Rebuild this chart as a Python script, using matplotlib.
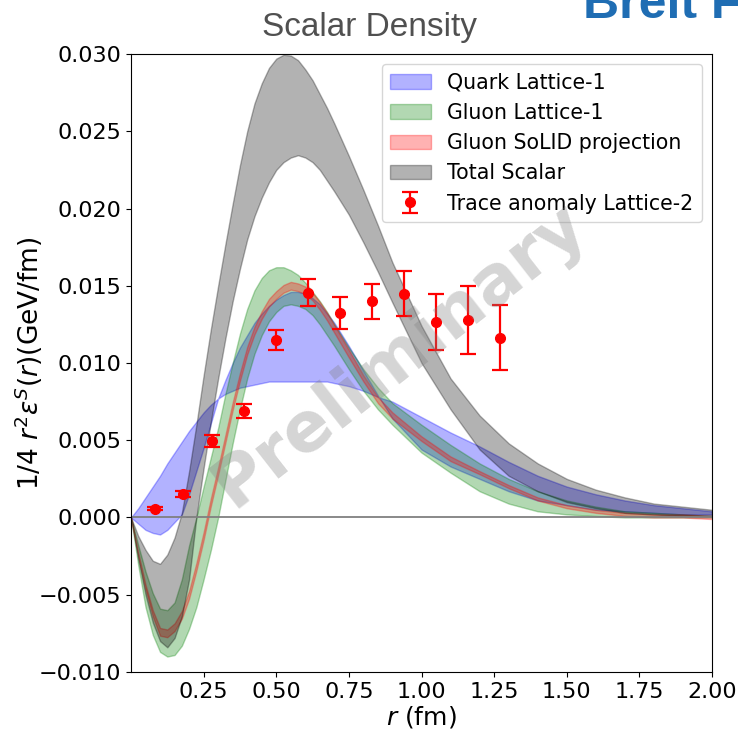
import matplotlib
matplotlib.use("Agg")
import matplotlib.pyplot as plt

# radial grid (fm) on which the bands were read
r = [0, 0.025, 0.05, 0.075, 0.1, 0.125, 0.15, 0.175, 0.2, 0.225, 0.25, 0.275,
     0.3, 0.325, 0.35, 0.375, 0.4, 0.425, 0.45, 0.475, 0.5, 0.525, 0.55, 0.575,
     0.6, 0.625, 0.65, 0.675, 0.7, 0.75, 0.8, 0.85, 0.9,
     1.0, 1.1, 1.2, 1.3, 1.4, 1.5, 1.6, 1.7, 1.8, 1.9, 2.0]

# quark lattice-1: the two edges of the band (they cross twice)
quark_a = [0, -0.0004, -0.0008, -0.0010, -0.0011, -0.0008, -0.0003, 0.0002, 0.0015, 0.0030, 0.0045, 0.0061,
           0.0077, 0.0089, 0.0100, 0.0110, 0.0118, 0.0126, 0.0132, 0.0137, 0.0141, 0.0144, 0.0146, 0.0146,
           0.0145, 0.0142, 0.0138, 0.0132, 0.0126, 0.0111, 0.0095, 0.0079, 0.0064,
           0.0044, 0.0033, 0.0025, 0.0017, 0.0011, 0.0008, 0.0005, 0.0004, 0.0003, 0.0002, 0.0002]
quark_b = [0, 0.0006, 0.0013, 0.0020, 0.0027, 0.0035, 0.0042, 0.0049, 0.0056, 0.0062, 0.0068, 0.0073,
           0.0077, 0.0080, 0.0082, 0.0084, 0.0085, 0.0086, 0.0087, 0.0088, 0.0088, 0.0088, 0.0088, 0.0088,
           0.0088, 0.0088, 0.0088, 0.0088, 0.0087, 0.0085, 0.0082, 0.0078, 0.0075,
           0.0065, 0.0055, 0.0046, 0.0036, 0.0027, 0.0020, 0.0015, 0.0011, 0.0008, 0.0006, 0.0004]

# gluon lattice-1
gluon_hi = [0, -0.0018, -0.0035, -0.0049, -0.0059, -0.0060, -0.0055, -0.0040, -0.0018, 0.0000, 0.0020, 0.0039,
            0.0058, 0.0080, 0.0100, 0.0119, 0.0135, 0.0147, 0.0155, 0.0160, 0.0162, 0.0162, 0.0160, 0.0157,
            0.0152, 0.0146, 0.0140, 0.0133, 0.0125, 0.0110, 0.0096, 0.0084, 0.0074,
            0.0060, 0.0047, 0.0035, 0.0025, 0.0017, 0.0011, 0.0007, 0.0004, 0.0003, 0.0002, 0.0001]
gluon_lo = [0, -0.0031, -0.0058, -0.0076, -0.0087, -0.0090, -0.0089, -0.0083, -0.0072, -0.0058, -0.0040, -0.0021,
            0.0000, 0.0024, 0.0048, 0.0070, 0.0090, 0.0106, 0.0118, 0.0127, 0.0133, 0.0137, 0.0138, 0.0137,
            0.0135, 0.0131, 0.0125, 0.0118, 0.0111, 0.0096, 0.0082, 0.0070, 0.0060,
            0.0042, 0.0029, 0.0017, 0.0009, 0.0004, 0.0002, 0.0001, 0.0000, 0.0000, 0.0000, 0.0000]

# gluon SoLID projection: central value and half width
solid_mid = [0, -0.0024, -0.0045, -0.0062, -0.0074, -0.0075, -0.0071, -0.0063, -0.0050, -0.0032, -0.0012, 0.0010,
             0.0030, 0.0051, 0.0072, 0.0091, 0.0108, 0.0121, 0.0131, 0.0139, 0.0144, 0.0148, 0.0150, 0.0149,
             0.0147, 0.0143, 0.0137, 0.0130, 0.0122, 0.0106, 0.0090, 0.0076, 0.0066,
             0.0051, 0.0038, 0.0029, 0.0020, 0.0012, 0.0007, 0.0004, 0.0002, 0.0001, 0.0001, 0.0000]
solid_err = ([0, 0.0001, 0.00015, 0.0002] + [0.00025] * 26 + [0.0002, 0.0002, 0.0002]
             + [0.00015, 0.00015] + [0.0001] * 9)

# total scalar
total_hi = [0, -0.0012, -0.0021, -0.0028, -0.0030, -0.0024, -0.0013, 0.0003, 0.0030, 0.0060, 0.0092, 0.0122,
            0.0150, 0.0177, 0.0203, 0.0228, 0.0250, 0.0268, 0.0281, 0.0291, 0.0297, 0.02995, 0.0299, 0.0296,
            0.0290, 0.0283, 0.0274, 0.0265, 0.0255, 0.0234, 0.0212, 0.0189, 0.0165,
            0.0124, 0.0090, 0.0066, 0.0048, 0.0035, 0.0025, 0.0018, 0.0013, 0.0009, 0.0007, 0.0005]
total_lo = [0, -0.0027, -0.0050, -0.0068, -0.0080, -0.0084, -0.0078, -0.0064, -0.0040, 0.0000, 0.0032, 0.0062,
            0.0090, 0.0116, 0.0140, 0.0161, 0.0180, 0.0195, 0.0207, 0.0217, 0.0225, 0.0230, 0.0233, 0.02345,
            0.0233, 0.0230, 0.0225, 0.0218, 0.0211, 0.0196, 0.0178, 0.0159, 0.0139,
            0.0100, 0.0070, 0.0044, 0.0027, 0.0017, 0.0010, 0.0006, 0.0003, 0.0002, 0.0001, 0.0001]

# trace anomaly lattice-2 points
r_pts = [0.083, 0.18, 0.28, 0.39, 0.50, 0.61, 0.72, 0.83, 0.94, 1.05, 1.16, 1.27]
trace = [0.00056, 0.0015, 0.00495, 0.0069, 0.0115, 0.01455, 0.01325, 0.0140, 0.01448, 0.01264, 0.01277, 0.01163]
trace_err = [0.0001, 0.0002, 0.0004, 0.00045, 0.00065, 0.00086, 0.00103, 0.00112, 0.00145, 0.0018, 0.0022, 0.0021]

solid_lo = [m - e for m, e in zip(solid_mid, solid_err)]
solid_hi = [m + e for m, e in zip(solid_mid, solid_err)]

fig = plt.figure(figsize=(7.38, 7.29), dpi=100)
ax = fig.add_axes([0.1775, 0.0782, 0.7873, 0.8477])

ax.fill_between(r, quark_a, quark_b, color="b", alpha=0.3, label="Quark Lattice-1")
ax.fill_between(r, gluon_lo, gluon_hi, color="g", alpha=0.3, label="Gluon Lattice-1")
ax.fill_between(r, solid_lo, solid_hi, color="r", alpha=0.3, label="Gluon SoLID projection")
ax.fill_between(r, total_lo, total_hi, color="k", alpha=0.3, label="Total Scalar")
ax.axhline(0, color="gray", lw=1.3)
ax.errorbar(r_pts, trace, yerr=trace_err, fmt="o", color="r", ms=7, capsize=6,
            elinewidth=1.6, capthick=1.6, label="Trace anomaly Lattice-2", zorder=5)

ax.set_xlim(0, 2.0)
ax.set_ylim(-0.010, 0.030)
ax.set_xticks([0.25, 0.5, 0.75, 1.0, 1.25, 1.5, 1.75, 2.0])
ax.tick_params(labelsize=16)
ax.set_xlabel(r"$r$ (fm)", fontsize=18, labelpad=2)
ax.set_ylabel(r"1/4 $r^2\varepsilon^S(r)$(GeV/fm)", fontsize=19)
ax.yaxis.set_label_coords(-0.148, 0.5)
ax.legend(loc="upper right", fontsize=14.8, labelspacing=0.5)

ax.text(0.925, 0.0105, "Preliminary", fontsize=50, fontweight="bold", color="gray",
        alpha=0.33, rotation=38, ha="center", va="center", zorder=10)

fig.text(0.5, 0.95, "Scalar Density", fontsize=24, color="#505050",
         family=["Liberation Sans", "DejaVu Sans"], ha="center", va="baseline")
fig.text(0.79, 0.975, "Breit Frame", fontsize=36, fontweight="bold", color="#1f6db3",
         family=["Liberation Sans", "DejaVu Sans"], ha="left", va="baseline")

fig.savefig("out.png", dpi=100)
